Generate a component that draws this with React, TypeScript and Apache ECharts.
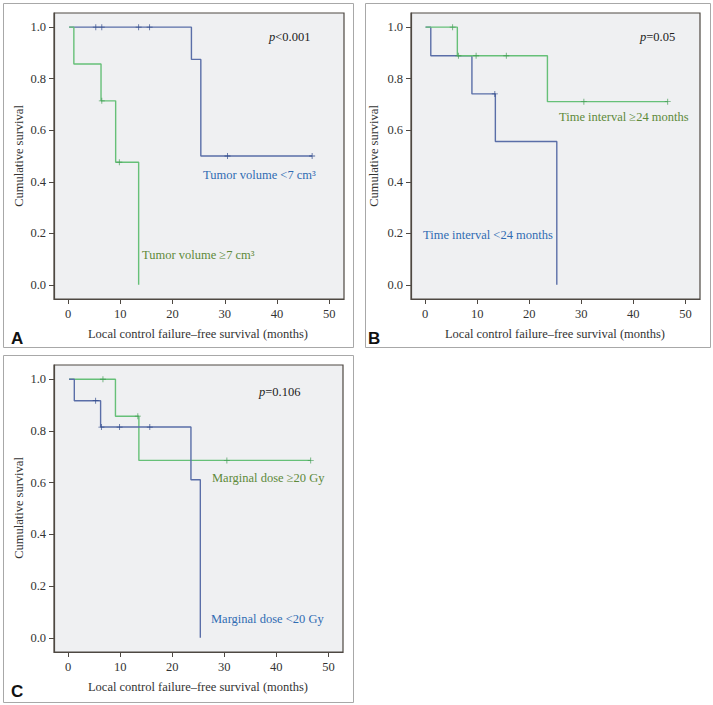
import React, { useEffect, useRef } from "react";
import * as echarts from "echarts";

// ---------- data ----------
const xTicks = [0, 10, 20, 30, 40, 50];
const yTicks = [0, 0.2, 0.4, 0.6, 0.8, 1.0];

// Panel A
const aBlueTimes = [0.2, 23.6, 25.4, 46.7];
const aBlueSurv = [1, 0.875, 0.5, 0.5];
const aBlueCensT = [5.3, 6.45, 13.5, 15.6, 30.5, 46.7];
const aBlueCensS = [1, 1, 1, 1, 0.5, 0.5];
const aGreenTimes = [0.2, 1.1, 6.3, 9.1, 13.5];
const aGreenSurv = [1, 0.857, 0.714, 0.476, 0];
const aGreenCensT = [6.45, 9.8];
const aGreenCensS = [0.714, 0.476];

// Panel B
const bGreenTimes = [0.1, 6.2, 23.5, 46.6];
const bGreenSurv = [1, 0.889, 0.711, 0.711];
const bGreenCensT = [5.3, 6.4, 9.8, 15.6, 30.5, 46.6];
const bGreenCensS = [1, 0.889, 0.889, 0.889, 0.711, 0.711];
const bBlueTimes = [0.1, 1.1, 9.0, 13.5, 25.3];
const bBlueSurv = [1, 0.889, 0.741, 0.556, 0];
const bBlueCensT = [13.4];
const bBlueCensS = [0.741];

// Panel C
const cGreenTimes = [0.2, 9.1, 13.6, 46.6];
const cGreenSurv = [1, 0.857, 0.686, 0.686];
const cGreenCensT = [6.7, 13.4, 30.5, 46.6];
const cGreenCensS = [1, 0.857, 0.686, 0.686];
const cBlueTimes = [0.2, 1.2, 6.25, 23.6, 25.4];
const cBlueSurv = [1, 0.917, 0.815, 0.611, 0];
const cBlueCensT = [5.3, 6.4, 9.9, 15.7];
const cBlueCensS = [0.917, 0.815, 0.815, 0.815];

const xTitle = "Local control failure\u2013free survival (months)";
const yTitle = "Cumulative survival";

// ---------- styles ----------
const BLUE_LINE = "#5a6ea8";
const BLUE_MARK = "#2c4688";
const GREEN_LINE = "#66c078";
const GREEN_MARK = "#3f9a50";
const BLUE_TEXT = "#2f6cb2";
const GREEN_TEXT = "#5e8a3a";
const FRAME = "#4e4842";
const SERIF = "'Liberation Serif', 'DejaVu Serif', serif";
const PLUS = "path://M-1,-0.14H1V0.14H-1Z M-0.14,-1H0.14V1H-0.14Z";

const zip = (a: number[], b: number[]) => a.map((v, i) => [v, b[i]]);

export default function App() {
  const ref = useRef<HTMLDivElement>(null);
  useEffect(() => {
    const chart = echarts.init(ref.current!, undefined, { renderer: "svg" });

    const grids = [
      { left: 54, top: 13, width: 290, height: 286 },
      { left: 411, top: 13, width: 289, height: 286 },
      { left: 54, top: 365, width: 289, height: 287 },
    ];

    const xAxis = grids.map((_, i) => ({
      type: "value",
      gridIndex: i,
      min: -2.7,
      max: 52.8,
      axisLine: { show: true, onZero: false, lineStyle: { color: FRAME, width: 1.2 } },
      axisTick: { show: true, length: 5, customValues: xTicks, lineStyle: { color: FRAME } },
      axisLabel: {
        customValues: xTicks,
        color: "#333",
        fontFamily: SERIF,
        fontSize: 12.5,
        margin: 8,
      },
      splitLine: { show: false },
    }));
    const yAxis = grids.map((_, i) => ({
      type: "value",
      gridIndex: i,
      min: -0.055,
      max: 1.055,
      axisLine: { show: true, onZero: false, lineStyle: { color: FRAME, width: 1.2 } },
      axisTick: { show: true, length: 5, customValues: yTicks, lineStyle: { color: FRAME } },
      axisLabel: {
        customValues: yTicks,
        color: "#333",
        fontFamily: SERIF,
        fontSize: 12.5,
        margin: 8,
        formatter: (v: number) => v.toFixed(1),
      },
      splitLine: { show: false },
    }));

    const lineSeries = (idx: number, t: number[], s: number[], color: string, z: number) => ({
      type: "line",
      xAxisIndex: idx,
      yAxisIndex: idx,
      step: "end",
      data: zip(t, s),
      showSymbol: false,
      symbol: "none",
      lineStyle: { color, width: 1.4 },
      z,
      silent: true,
    });
    const censSeries = (idx: number, t: number[], s: number[], color: string, z: number) => ({
      type: "scatter",
      xAxisIndex: idx,
      yAxisIndex: idx,
      data: zip(t, s),
      symbol: PLUS,
      symbolSize: 6,
      itemStyle: { color },
      z,
      silent: true,
    });

    const series = [
      lineSeries(0, aBlueTimes, aBlueSurv, BLUE_LINE, 2),
      censSeries(0, aBlueCensT, aBlueCensS, BLUE_MARK, 5),
      lineSeries(0, aGreenTimes, aGreenSurv, GREEN_LINE, 3),
      censSeries(0, aGreenCensT, aGreenCensS, GREEN_MARK, 5),

      lineSeries(1, bBlueTimes, bBlueSurv, BLUE_LINE, 2),
      censSeries(1, bBlueCensT, bBlueCensS, BLUE_MARK, 5),
      lineSeries(1, bGreenTimes, bGreenSurv, GREEN_LINE, 3),
      censSeries(1, bGreenCensT, bGreenCensS, GREEN_MARK, 5),

      lineSeries(2, cGreenTimes, cGreenSurv, GREEN_LINE, 2),
      censSeries(2, cGreenCensT, cGreenCensS, GREEN_MARK, 5),
      lineSeries(2, cBlueTimes, cBlueSurv, BLUE_LINE, 3),
      censSeries(2, cBlueCensT, cBlueCensS, BLUE_MARK, 5),
    ];

    const box = (x: number, y: number, w: number, h: number) => ({
      type: "rect",
      shape: { x: x + 0.5, y: y + 0.5, width: w, height: h },
      style: { fill: "none", stroke: "#a8a8a8", lineWidth: 1 },
      silent: true,
      z: -10,
    });
    const txt = (
      x: number,
      y: number,
      text: string,
      color: string,
      extra: any = {}
    ) => ({
      type: "text",
      x,
      y,
      silent: true,
      z: 20,
      style: {
        text,
        fill: color,
        font: `12.5px ${SERIF}`,
        textAlign: "left",
        textVerticalAlign: "middle",
        ...extra,
      },
    });
    const rotTitle = (x: number, y: number) => ({
      type: "text",
      x,
      y,
      rotation: Math.PI / 2,
      silent: true,
      style: {
        text: yTitle,
        fill: "#333",
        font: `12.5px ${SERIF}`,
        textAlign: "center",
        textVerticalAlign: "middle",
      },
    });
    const letter = (x: number, y: number, t: string) => ({
      type: "text",
      x,
      y,
      silent: true,
      style: {
        text: t,
        fill: "#111",
        font: "bold 17px 'Liberation Sans', Arial, sans-serif",
        textAlign: "left",
        textVerticalAlign: "middle",
      },
    });
    const pText = (x: number, y: number, rest: string) => ({
      type: "text",
      x,
      y,
      silent: true,
      style: {
        text: `{i|p}{n|${rest}}`,
        textVerticalAlign: "middle",
        textAlign: "left",
        rich: {
          i: { fontFamily: SERIF, fontStyle: "italic", fontSize: 12.5, fill: "#222", color: "#222" },
          n: { fontFamily: SERIF, fontSize: 12.5, fill: "#222", color: "#222" },
        },
      },
    });

    const graphic = [
      box(3, 3, 350, 344),
      box(365, 3, 345, 344),
      box(3, 355, 350, 347),

      rotTitle(19, 156),
      rotTitle(374, 156),
      rotTitle(19, 508),

      txt(198, 334, xTitle, "#333", { textAlign: "center" }),
      txt(555, 334, xTitle, "#333", { textAlign: "center" }),
      txt(198, 687, xTitle, "#333", { textAlign: "center" }),

      letter(11, 338, "A"),
      letter(368, 338, "B"),
      letter(11, 691, "C"),

      pText(269, 37, "<0.001"),
      pText(640, 37, "=0.05"),
      pText(259, 392, "=0.106"),

      txt(203, 175, "Tumor volume <7 cm\u00B3", BLUE_TEXT),
      txt(142, 255, "Tumor volume \u22657 cm\u00B3", GREEN_TEXT),
      txt(559, 117, "Time interval \u226524 months", GREEN_TEXT),
      txt(423, 235, "Time interval <24 months", BLUE_TEXT),
      txt(212, 478, "Marginal dose \u226520 Gy", GREEN_TEXT),
      txt(211, 619, "Marginal dose <20 Gy", BLUE_TEXT),
    ];

    chart.setOption({
      animation: false,
      backgroundColor: "#ffffff",
      grid: grids.map((g) => ({
        ...g,
        show: true,
        backgroundColor: "#eff0f2",
        borderColor: FRAME,
        borderWidth: 1.2,
      })),
      xAxis,
      yAxis,
      series,
      graphic,
    } as any);

    return () => chart.dispose();
  }, []);

  return (
    <div
      ref={ref}
      style={{ position: "fixed", left: 0, top: 0, width: 713, height: 705 }}
    />
  );
}
